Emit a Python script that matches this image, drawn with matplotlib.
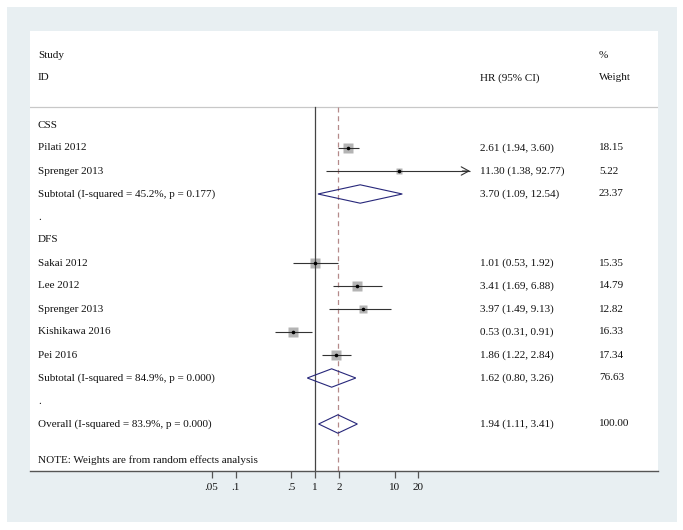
import numpy as np
import matplotlib
matplotlib.use("Agg")
import matplotlib.pyplot as plt
from matplotlib.patches import Rectangle, Polygon
from matplotlib.transforms import blended_transform_factory

# ---------------- data ----------------
css_studies = ["Pilati 2012", "Sprenger 2013"]
css_hr = [2.61, 11.30]
css_lo = [1.94, 1.38]
css_hi = [3.60, 92.77]
css_w = [18.15, 5.22]
css_sub = [3.70, 1.09, 12.54, 23.37]
css_sub_label = "Subtotal (I-squared = 45.2%, p = 0.177)"

dfs_studies = ["Sakai 2012", "Lee 2012", "Sprenger 2013", "Kishikawa 2016", "Pei 2016"]
dfs_hr = [1.01, 3.41, 3.97, 0.53, 1.86]
dfs_lo = [0.53, 1.69, 1.49, 0.31, 1.22]
dfs_hi = [1.92, 6.88, 9.13, 0.91, 2.84]
dfs_w = [15.35, 14.79, 12.82, 16.33, 17.34]
dfs_sub = [1.62, 0.80, 3.26, 76.63]
dfs_sub_label = "Subtotal (I-squared = 84.9%, p = 0.000)"

overall = [1.94, 1.11, 3.41, 100.00]
overall_label = "Overall (I-squared = 83.9%, p = 0.000)"
note = "NOTE: Weights are from random effects analysis"

xticks = [0.05, 0.1, 0.5, 1, 2, 10, 20]
xtick_labels = [".05", ".1", ".5", "1", "2", "10", "20"]

# ---------------- style ----------------
W, H = 683, 530
DPI = 100
FONT = ["Liberation Serif", "DejaVu Serif"]
FS = 8.0
BG = "#e8eff2"
DIAMOND = "#27277a"
DASH = "#b58a8a"
BOX = "#b4b4b4"
CLIP_HI = 10 ** 1.95

plt.rcParams["font.family"] = FONT

fig = plt.figure(figsize=(W / DPI, H / DPI), dpi=DPI)
fig.patch.set_facecolor("white")

bg_ax = fig.add_axes([0, 0, 1, 1], zorder=-5)
bg_ax.set_xlim(0, W)
bg_ax.set_ylim(H, 0)
bg_ax.axis("off")
bg_ax.add_patch(Rectangle((7, 7), 677 - 7, 522 - 7, facecolor=BG, edgecolor="none"))

px_left, px_right, px_top, px_bot = 30, 658, 31, 471
ax = fig.add_axes([px_left / W, 1 - px_bot / H, (px_right - px_left) / W, (px_bot - px_top) / H],
                  zorder=1)
ax.set_facecolor("white")
ax.set_xscale("log")
x0px = 315.0
ppd = 79.5
ax.set_xlim(10 ** ((px_left - x0px) / ppd), 10 ** ((px_right - x0px) / ppd))
row0, rstep = 125.0, 23.0
ax.set_ylim((px_bot - row0) / rstep, (px_top - row0) / rstep)

tr_text = blended_transform_factory(ax.transAxes, ax.transData)
col_study = (38 - px_left) / (px_right - px_left)
col_hr = (480 - px_left) / (px_right - px_left)
col_w = (599 - px_left) / (px_right - px_left)

def txt(x, y, s):
    ax.text(x, y, s, transform=tr_text, fontsize=FS, va="center", ha="left", color="#111111")

def ci_text(y, e, l, h, w):
    txt(col_hr, y, f"{e:.2f} ({l:.2f}, {h:.2f})")
    txt(col_w, y, f"{w:.2f}")

def study(y, name, e, l, h, w):
    txt(col_study, y, name)
    hi_draw = min(h, CLIP_HI)
    ax.plot([l, hi_draw], [y, y], color="#333333", lw=0.8, zorder=3, solid_capstyle="butt")
    if h > CLIP_HI:
        ax.annotate("", xy=(hi_draw, y), xytext=(hi_draw / 1.25, y),
                    arrowprops=dict(arrowstyle="->,head_length=0.55,head_width=0.3",
                                    color="#333333", lw=0.8, shrinkA=0, shrinkB=0), zorder=3)
    side = 2.4 * np.sqrt(w) * 0.72
    ax.plot([e], [y], marker="s", ms=side, color=BOX, mec="none", zorder=2)
    ax.plot([e], [y], marker="o", ms=2.6, color="black", mec="none", zorder=4)
    ci_text(y, e, l, h, w)

def diamond(y, label, vals):
    e, l, h, w = vals
    txt(col_study, y, label)
    hh = 0.4
    poly = Polygon([[l, y], [e, y - hh], [h, y], [e, y + hh]], closed=True,
                   fill=False, edgecolor=DIAMOND, lw=0.8, zorder=4)
    ax.add_patch(poly)
    ci_text(y, e, l, h, w)

# header
header_study_y = (55 - row0) / rstep
header_id_y = (78 - row0) / rstep
txt(col_study, header_study_y, "Study")
txt(col_study, header_id_y, "ID")
txt(col_hr, header_id_y, "HR (95% CI)")
txt(col_w, header_study_y, "%")
txt(col_w, header_id_y, "Weight")
line_y = (107 - row0) / rstep
ax.axhline(line_y, color="#c8c8c8", lw=0.9, zorder=1)

row = 0
txt(col_study, row, "CSS"); row += 1
for i in range(len(css_studies)):
    study(row, css_studies[i], css_hr[i], css_lo[i], css_hi[i], css_w[i]); row += 1
diamond(row, css_sub_label, css_sub); row += 1
txt(col_study, row, "."); row += 1
txt(col_study, row, "DFS"); row += 1
for i in range(len(dfs_studies)):
    study(row, dfs_studies[i], dfs_hr[i], dfs_lo[i], dfs_hi[i], dfs_w[i]); row += 1
diamond(row, dfs_sub_label, dfs_sub); row += 1
txt(col_study, row, "."); row += 1
diamond(row, overall_label, overall); row += 1
txt(col_study, (460 - row0) / rstep, note)

ybot = ax.get_ylim()[0]
ax.plot([1, 1], [line_y, ybot], color="#444444", lw=0.9, zorder=2)
ax.plot([overall[0], overall[0]], [line_y, ybot], color=DASH, lw=0.9,
        ls=(0, (4, 3)), zorder=1)

for s in ["top", "left", "right"]:
    ax.spines[s].set_visible(False)
ax.spines["bottom"].set_color("#555555")
ax.spines["bottom"].set_linewidth(1.0)
ax.set_yticks([])
ax.set_xticks(xticks)
ax.set_xticklabels(xtick_labels)
ax.minorticks_off()
ax.tick_params(axis="x", which="major", length=5, width=0.9, color="#555555",
               labelsize=FS, labelcolor="#111111", pad=4)

fig.savefig("out.png", dpi=DPI, facecolor=fig.get_facecolor())
